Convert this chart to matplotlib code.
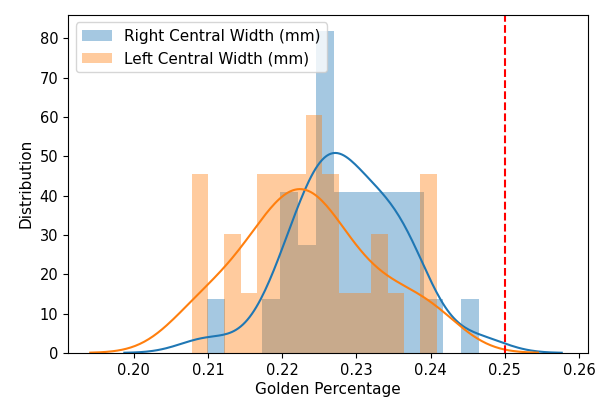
import matplotlib
matplotlib.use('Agg')
import matplotlib.pyplot as plt
import seaborn as sns

# golden percentage of each measurement, read back from the 15-bin histograms
right_width = [0.2099, 0.2184, 0.2202, 0.2210, 0.2218, 0.2228, 0.2238,
               0.2248, 0.2252, 0.2256, 0.2260, 0.2264, 0.2268,
               0.2271, 0.2276, 0.2281, 0.2296, 0.2300, 0.2305,
               0.2320, 0.2325, 0.2330, 0.2344, 0.2349, 0.2354,
               0.2368, 0.2372, 0.2377, 0.2395, 0.2465]
left_width = [0.2078, 0.2085, 0.2093, 0.2128, 0.2139, 0.2155,
              0.2170, 0.2177, 0.2184, 0.2192, 0.2199, 0.2206,
              0.2214, 0.2221, 0.2228, 0.2235, 0.2240, 0.2246, 0.2251,
              0.2258, 0.2265, 0.2272, 0.2287, 0.2309, 0.2326, 0.2337,
              0.2353, 0.2392, 0.2400, 0.2408]
golden = 0.25
nbins = 15

plt.rcParams['font.size'] = 11
plt.rcParams['xtick.labelsize'] = 10.5
plt.rcParams['ytick.labelsize'] = 10.5

fig = plt.figure(figsize=(6.06, 4.01), dpi=100)
ax = fig.add_axes([0.112, 0.12, 0.858, 0.843])

ax.hist(right_width, bins=nbins, density=True, color='C0', alpha=0.4,
        label='Right Central Width (mm)')
sns.kdeplot(x=right_width, ax=ax, color='C0', cut=3, bw_method='scott', lw=1.5)
ax.hist(left_width, bins=nbins, density=True, color='C1', alpha=0.4,
        label='Left Central Width (mm)')
sns.kdeplot(x=left_width, ax=ax, color='C1', cut=3, bw_method='scott', lw=1.5)

ax.axvline(golden, color='red', linestyle='--')
ax.set_xlim(0.1911, 0.2612)
ax.set_ylim(0, 86)
ax.set_xlabel('Golden Percentage', labelpad=3)
ax.set_ylabel('Distribution')
ax.legend(loc='upper left', fontsize=11)

plt.savefig('out.png', dpi=100)
